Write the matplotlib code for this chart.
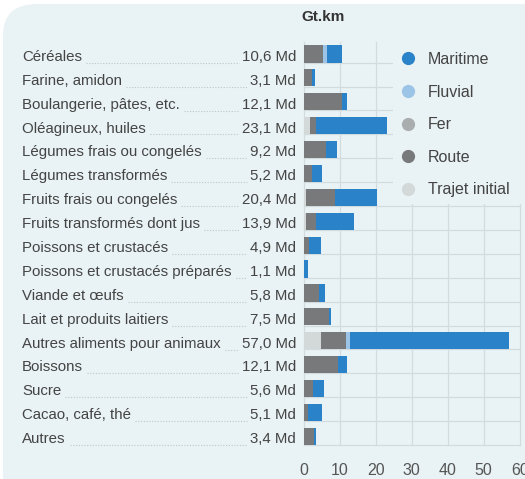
import matplotlib
matplotlib.use("Agg")
import matplotlib.pyplot as plt
from matplotlib.patches import FancyBboxPatch, Rectangle
from matplotlib.lines import Line2D
from matplotlib.transforms import blended_transform_factory
import numpy as np

categories = [
    "Céréales", "Farine, amidon", "Boulangerie, pâtes, etc.", "Oléagineux, huiles",
    "Légumes frais ou congelés", "Légumes transformés", "Fruits frais ou congelés",
    "Fruits transformés dont jus", "Poissons et crustacés", "Poissons et crustacés préparés",
    "Viande et œufs", "Lait et produits laitiers", "Autres aliments pour animaux",
    "Boissons", "Sucre", "Cacao, café, thé", "Autres",
]
totals = ["10,6 Md", "3,1 Md", "12,1 Md", "23,1 Md", "9,2 Md", "5,2 Md", "20,4 Md",
          "13,9 Md", "4,9 Md", "1,1 Md", "5,8 Md", "7,5 Md", "57,0 Md", "12,1 Md",
          "5,6 Md", "5,1 Md", "3,4 Md"]

# Gt.km per mode, stacked left to right
trajet_initial = [0.0, 0.0, 0.0, 1.7, 0.0, 0.0, 0.6, 0.6, 0.0, 0.0, 0.0, 0.0, 4.8, 0.0, 0.0, 0.0, 0.0]
route = [5.3, 2.4, 10.7, 1.7, 6.3, 2.3, 8.0, 2.9, 1.6, 0.1, 4.3, 7.0, 7.0, 9.6, 2.7, 1.2, 2.9]
fer = [0.0] * 17
fluvial = [1.1, 0.0, 0.0, 0.0, 0.0, 0.0, 0.0, 0.0, 0.0, 0.0, 0.0, 0.0, 1.0, 0.0, 0.0, 0.0, 0.0]
maritime = [4.2, 0.7, 1.4, 19.7, 2.9, 2.9, 11.8, 10.4, 3.3, 1.0, 1.5, 0.5, 44.2, 2.5, 2.9, 3.9, 0.5]

modes = [
    ("Trajet initial", trajet_initial, "#d3d8d8"),
    ("Route", route, "#77797b"),
    ("Fer", fer, "#a9adae"),
    ("Fluvial", fluvial, "#9cc4e6"),
    ("Maritime", maritime, "#2a82c8"),
]

BG = "#e9f2f4"
GRID = "#d2dcde"
TEXT = "#444444"
plt.rcParams["font.family"] = ["Liberation Sans", "DejaVu Sans"]

W, H = 525, 479
fig = plt.figure(figsize=(W / 100, H / 100), dpi=100)
fig.patch.set_facecolor("white")
bg = FancyBboxPatch((3 / W, -0.2), 1.2, 1.2 - 4 / H,
                    boxstyle="round,pad=0,rounding_size=0.065",
                    transform=fig.transFigure, facecolor=BG, edgecolor="none")
bg.set_zorder(-10)
fig.add_artist(bg)

ax = fig.add_axes([303.7 / W, (H - 445) / H, 216 / W, (445 - 42) / H])
ax.set_facecolor("none")
n = len(categories)
y = np.arange(n)
ax.set_xlim(0, 60)
ax.set_ylim(n - 1 + 0.365, -0.5)

# grid
for gx in range(0, 61, 10):
    ax.plot([gx, gx], [-0.5, n - 1 + 0.365], color=GRID, lw=0.9, zorder=1, clip_on=False)
for gy in y + 0.365:
    ax.plot([0, 60], [gy, gy], color=GRID, lw=0.9, zorder=1, clip_on=False)

# legend area masks the grid
ax.add_patch(Rectangle((24.8, -0.6), 40, 6.9, facecolor=BG, edgecolor="none",
                       zorder=2, clip_on=False))

left = np.zeros(n)
for name, vals, color in modes:
    vals = np.array(vals)
    ax.barh(y, vals, left=left, height=0.72, color=color, zorder=3)
    left += vals

ax.set_xticks(range(0, 61, 10))
ax.set_xticklabels([str(v) for v in range(0, 61, 10)], fontsize=11.5, color="#555555")
ax.tick_params(axis="x", length=0, pad=13)
ax.set_yticks([])
for s in ax.spines.values():
    s.set_visible(False)

ax.text(0.089, 1.045, "Gt.km", transform=ax.transAxes, ha="center",
        va="bottom", fontsize=11, fontweight="bold", color="#333333")

# row labels with dotted leaders
tr = blended_transform_factory(fig.transFigure, ax.transData)
lab_objs, val_objs = [], []
for i, (cat, tot) in enumerate(zip(categories, totals)):
    lab_objs.append(ax.text(22 / W, i + 0.12, cat, transform=tr, ha="left", va="center",
                            fontsize=10.8, color=TEXT))
    val_objs.append(ax.text(296 / W, i + 0.12, tot, transform=tr, ha="right", va="center",
                            fontsize=10.8, color=TEXT))

fig.canvas.draw()
renderer = fig.canvas.get_renderer()
for i, (lt, vt) in enumerate(zip(lab_objs, val_objs)):
    x0 = (lt.get_window_extent(renderer).x1 + 4) / W
    x1 = (vt.get_window_extent(renderer).x0 - 3) / W
    if x1 > x0:
        ax.plot([x0, x1], [i + 0.37, i + 0.37], transform=tr, color="#bcc6c9",
                lw=0.8, ls=(0, (1, 1.5)), clip_on=False, zorder=4)

handles = [Line2D([], [], ls="none", marker="o", markersize=9.5, color=c,
                  markeredgewidth=0, label=name)
           for name, _, c in reversed(modes)]
ax.legend(handles=handles, loc="upper left", bbox_to_anchor=(390 / W, (H - 44) / H),
          bbox_transform=fig.transFigure, frameon=False, fontsize=11.5,
          labelcolor=TEXT, handletextpad=0.65, labelspacing=1.1, handlelength=1.2,
          borderpad=0)

fig.savefig("out.png", dpi=100, facecolor=fig.get_facecolor())
